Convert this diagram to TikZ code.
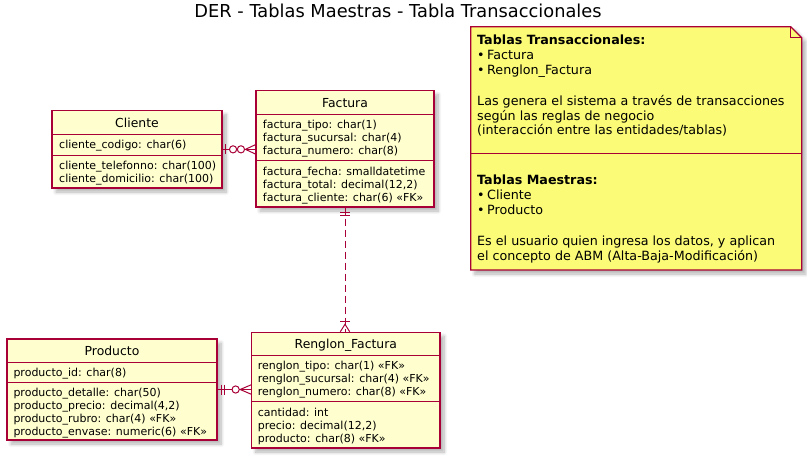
\documentclass[tikz,border=0pt]{standalone}
\usepackage{fontspec}
\setmainfont{DejaVu Sans}
\usetikzlibrary{shadows.blur,calc}
\definecolor{umlred}{RGB}{168,0,54}
\definecolor{entityfill}{RGB}{254,254,206}
\definecolor{notefill}{RGB}{251,251,119}
\newcommand{\attrfont}{\fontsize{11}{13}\selectfont}
\newcommand{\headfont}{\fontsize{12.4}{14.5}\selectfont}
\newcommand{\notefont}{\fontsize{12.7}{14.5}\selectfont}
\newcommand{\titlefont}{\fontsize{17.8}{20}\selectfont}

\tikzset{
  softshadow/.style={blur shadow={shadow xshift=4pt, shadow yshift=-4pt,
    shadow blur steps=8, shadow blur radius=3.5pt, shadow opacity=30}},
  entity/.style={draw=umlred, fill=entityfill, line width=1.1pt, inner sep=0pt, softshadow},
  attr/.style={font=\attrfont, inner sep=0pt, anchor=base west},
  head/.style={font=\headfont, inner sep=0pt, anchor=base},
  notetext/.style={font=\notefont, inner sep=0pt, anchor=base west},
  sep/.style={draw=umlred, line width=1pt},
  conn/.style={draw=umlred, line width=1pt},
  knob/.style={draw=umlred, line width=1pt, fill=white},
}

\begin{document}
\begin{tikzpicture}[x=1pt, y=-1pt]
    \useasboundingbox (0,0) rectangle (807,461);

    \node[font=\titlefont, inner sep=0pt, anchor=base] (title) at (398,17) {DER - Tablas Maestras - Tabla Transaccionales};

    % Cliente
    \node[entity, minimum width=170pt, minimum height=77.3pt] (cliente) at (137,149.35) {};
    \node[head] (clienteH) at (cliente.center |- 0,127) {Cliente};
    \draw[sep] (cliente.west |- 0,134) -- (cliente.east |- 0,134);
    \draw[sep] (cliente.west |- 0,155) -- (cliente.east |- 0,155);
    \node[attr] (clienteA) at (59,148.3) {cliente\_codigo: char(6)};
    \node[attr] (clienteB) at (59,169) {cliente\_telefonno: char(100)};
    \node[attr] (clienteC) at (59,182) {cliente\_domicilio: char(100)};

    % Factura
    \node[entity, minimum width=178pt, minimum height=116.3pt] (factura) at (345,148.85) {};
    \node[head] (facturaH) at (factura.center |- 0,107) {Factura};
    \draw[sep] (factura.west |- 0,114) -- (factura.east |- 0,114);
    \draw[sep] (factura.west |- 0,160.7) -- (factura.east |- 0,160.7);
    \node[attr] (facturaA) at (262.7,128.3) {factura\_tipo: char(1)};
    \node[attr] (facturaB) at (262.7,141.3) {factura\_sucursal: char(4)};
    \node[attr] (facturaC) at (262.7,154.3) {factura\_numero: char(8)};
    \node[attr] (facturaD) at (262.7,175) {factura\_fecha: smalldatetime};
    \node[attr] (facturaE) at (262.7,188) {factura\_total: decimal(12,2)};
    \node[attr] (facturaF) at (262.7,201) {factura\_cliente: char(6) «FK»};

    % Producto
    \node[entity, minimum width=210pt, minimum height=101pt] (producto) at (112,389.5) {};
    \node[head] (productoH) at (producto.center |- 0,355) {Producto};
    \draw[sep] (producto.west |- 0,362) -- (producto.east |- 0,362);
    \draw[sep] (producto.west |- 0,382) -- (producto.east |- 0,382);
    \node[attr] (productoA) at (13.3,376.3) {producto\_id: char(8)};
    \node[attr] (productoB) at (13.3,396.3) {producto\_detalle: char(50)};
    \node[attr] (productoC) at (13.3,409.3) {producto\_precio: decimal(4,2)};
    \node[attr] (productoD) at (13.3,422.3) {producto\_rubro: char(4) «FK»};
    \node[attr] (productoE) at (13.3,435.3) {producto\_envase: numeric(6) «FK»};

    % Renglon_Factura
    \node[entity, minimum width=188.3pt, minimum height=115.7pt] (renglon) at (345.85,390.15) {};
    \node[head] (renglonH) at (renglon.center |- 0,348.5) {Renglon\_Factura};
    \draw[sep] (renglon.west |- 0,355) -- (renglon.east |- 0,355);
    \draw[sep] (renglon.west |- 0,401.7) -- (renglon.east |- 0,401.7);
    \node[attr] (renglonA) at (257.7,369.3) {renglon\_tipo: char(1) «FK»};
    \node[attr] (renglonB) at (257.7,382.3) {renglon\_sucursal: char(4) «FK»};
    \node[attr] (renglonC) at (257.7,395.3) {renglon\_numero: char(8) «FK»};
    \node[attr] (renglonD) at (257.7,416) {cantidad: int};
    \node[attr] (renglonE) at (257.7,429) {precio: decimal(12,2)};
    \node[attr] (renglonF) at (257.7,442) {producto: char(8) «FK»};

    % Cliente |o--o{ Factura
    \coordinate (cf1) at (cliente.east);
    \coordinate (cf2) at (cliente.east -| factura.west);
    \draw[conn] (cf1) -- (cf2);
    \draw[conn] ($(cf1)+(3,-5)$) -- ($(cf1)+(3,5)$);
    \draw[knob] ($(cf1)+(10.5,0)$) circle[radius=3.6];
    \draw[knob] ($(cf2)+(-14.5,0)$) circle[radius=3.6];
    \draw[conn] ($(cf2)+(0,-4.7)$) -- ($(cf2)+(-10,0)$) -- ($(cf2)+(0,4.7)$);

    % Producto ||--o{ Renglon_Factura
    \coordinate (pr1) at (producto.east);
    \coordinate (pr2) at (producto.east -| renglon.west);
    \draw[conn] (pr1) -- (pr2);
    \draw[conn] ($(pr1)+(4,-5)$) -- ($(pr1)+(4,5)$);
    \draw[conn] ($(pr1)+(7,-5)$) -- ($(pr1)+(7,5)$);
    \draw[knob] ($(pr2)+(-15.5,0)$) circle[radius=3.6];
    \draw[conn] ($(pr2)+(0,-4.7)$) -- ($(pr2)+(-11,0)$) -- ($(pr2)+(0,4.7)$);

    % Factura ||..|{ Renglon_Factura
    \coordinate (fr1) at (factura.south);
    \coordinate (fr2) at (factura.south |- renglon.north);
    \draw[conn, dash pattern=on 7pt off 4pt] (fr1) -- (fr2);
    \draw[conn] ($(fr1)+(-5,5)$) -- ($(fr1)+(5,5)$);
    \draw[conn] ($(fr1)+(-5,8.3)$) -- ($(fr1)+(5,8.3)$);
    \draw[conn] ($(fr2)+(-5,-10.3)$) -- ($(fr2)+(5,-10.3)$);
    \draw[conn] ($(fr2)+(-4.7,0)$) -- ($(fr2)+(0,-7.5)$) -- ($(fr2)+(4.7,0)$);

    % note
    \draw[draw=umlred, fill=notefill, line width=1.1pt, softshadow]
      (470.7,26.7) -- (790.7,26.7) -- (801.7,37.7) -- (801.7,270) -- (470.7,270) -- cycle;
    \draw[draw=umlred, line width=1pt] (790.7,26.7) -- (790.7,37.7) -- (801.7,37.7);
    \draw[sep] (470.7,153) -- (801.7,153);
    \node[notetext, font=\notefont\bfseries] (noteA) at (477,44) {Tablas Transaccionales:};
    \node[notetext] (noteB) at (477,59.3) {•\hspace{2.5pt}Factura};
    \node[notetext] (noteC) at (477,74) {•\hspace{2.5pt}Renglon\_Factura};
    \node[notetext] (noteD) at (477,105.7) {Las genera el sistema a través de transacciones};
    \node[notetext] (noteE) at (477,120) {según las reglas de negocio};
    \node[notetext] (noteF) at (477,134.3) {(interacción entre las entidades/tablas)};
    \node[notetext, font=\notefont\bfseries] (noteG) at (477,184) {Tablas Maestras:};
    \node[notetext] (noteH) at (477,199) {•\hspace{2.5pt}Cliente};
    \node[notetext] (noteI) at (477,214) {•\hspace{2.5pt}Producto};
    \node[notetext] (noteJ) at (477,245.7) {Es el usuario quien ingresa los datos, y aplican};
    \node[notetext] (noteK) at (477,260) {el concepto de ABM (Alta-Baja-Modificación)};
\end{tikzpicture}
\end{document}
